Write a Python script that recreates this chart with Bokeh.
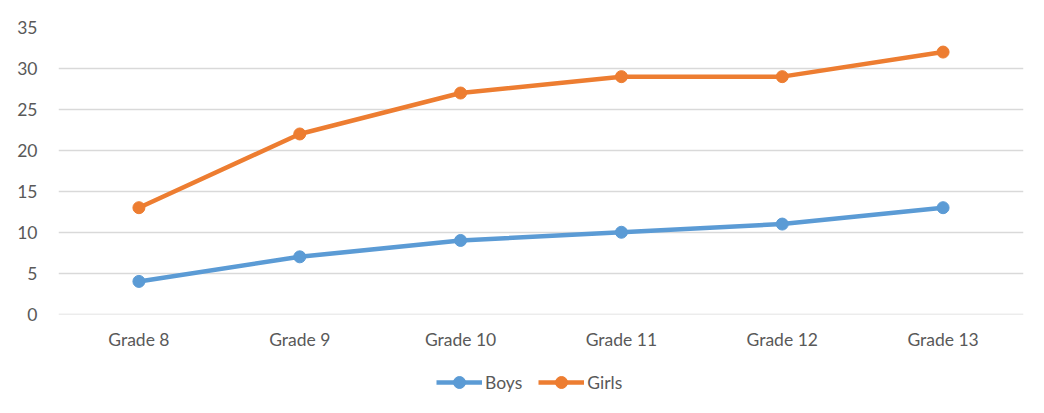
from bokeh.plotting import figure
from bokeh.layouts import column
from bokeh.models import FactorRange, Range1d, Legend, LegendItem, SingleIntervalTicker
from bokeh.embed import file_html
from bokeh.resources import INLINE

grades = ["Grade 8", "Grade 9", "Grade 10", "Grade 11", "Grade 12", "Grade 13"]
boys = [4, 7, 9, 10, 11, 13]
girls = [13, 22, 27, 29, 29, 32]
series_names = ["Boys", "Girls"]

BLUE = "#5B9BD5"
ORANGE = "#ED7D31"
TXT = "#595959"
GRID = "#D9D9D9"
FONT = "Lato"

p = figure(width=1028, height=356, x_range=FactorRange(*grades, range_padding=0),
           y_range=Range1d(-0.04, 35), output_backend="svg", toolbar_location=None,
           min_border_left=58, min_border_right=5, min_border_top=27, min_border_bottom=42)
p.outline_line_color = None
p.xgrid.grid_line_color = None
p.ygrid.grid_line_color = GRID
p.ygrid.grid_line_width = 1.3
p.yaxis.ticker = SingleIntervalTicker(interval=5)
for ax in (p.xaxis[0], p.yaxis[0]):
    ax.axis_line_color = None
    ax.major_tick_line_color = None
    ax.minor_tick_line_color = None
    ax.major_label_text_color = TXT
    ax.major_label_text_font = FONT
    ax.major_label_text_font_size = "17.5px"
p.yaxis.major_label_standoff = 15
p.xaxis.major_label_standoff = 8

p.line(grades, boys, line_color=BLUE, line_width=4.5)
p.scatter(grades, boys, size=12, fill_color=BLUE, line_color=BLUE)
p.line(grades, girls, line_color=ORANGE, line_width=4.5)
p.scatter(grades, girls, size=12, fill_color=ORANGE, line_color=ORANGE)

# legend strip (series drawn out of view; only the legend shows)
q = figure(width=1028, height=41, x_range=FactorRange(*grades, range_padding=0),
           y_range=Range1d(-3, -2), output_backend="svg", toolbar_location=None,
           min_border_left=0, min_border_right=0, min_border_top=0, min_border_bottom=0)
q.axis.visible = False
q.grid.visible = False
q.outline_line_color = None
items = []
for name, vals, col in zip(series_names, [boys, girls], [BLUE, ORANGE]):
    l = q.line(grades, vals, line_color=col, line_width=4.5)
    c = q.scatter(grades, vals, size=12, fill_color=col, line_color=col)
    items.append(LegendItem(label=name, renderers=[l, c]))
legend = Legend(items=items, orientation="horizontal", location=(378, 0),
                glyph_width=46, glyph_height=30, label_standoff=3, spacing=16,
                padding=0, margin=0, border_line_color=None, background_fill_alpha=0,
                label_text_font=FONT, label_text_font_size="17.5px", label_text_color=TXT)
q.add_layout(legend, "center")

open("out.html", "w").write(file_html(column(p, q, spacing=0), INLINE))
